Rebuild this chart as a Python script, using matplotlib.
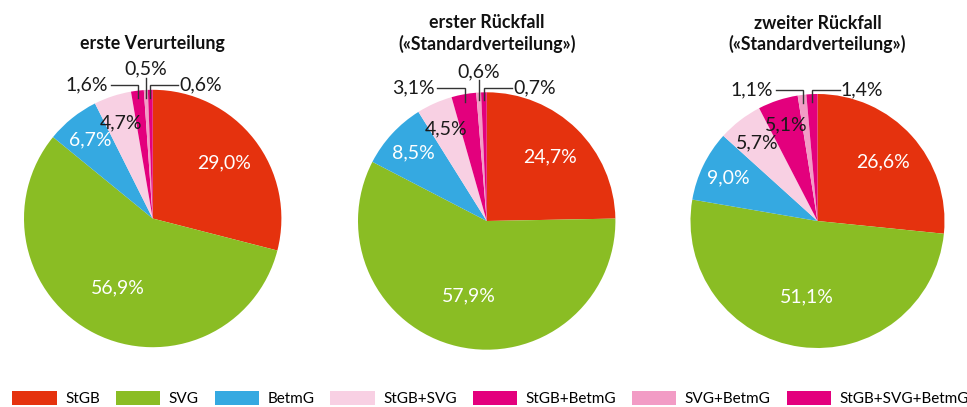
import matplotlib
matplotlib.use("Agg")
import matplotlib.pyplot as plt
from matplotlib.patches import Patch
import numpy as np

plt.rcParams['font.family'] = ['Lato', 'DejaVu Sans']

categories = ["StGB", "SVG", "BetmG", "StGB+SVG", "StGB+BetmG", "SVG+BetmG", "StGB+SVG+BetmG"]
colors = ["#E5320E", "#8ABD24", "#35A9E1", "#F8D0E3", "#E3007D", "#F29CC5", "#E3007D"]

titles = [["erste Verurteilung"],
          ["erster Rückfall", "(«Standardverteilung»)"],
          ["zweiter Rückfall", "(«Standardverteilung»)"]]
values_first = [29.0, 56.9, 6.7, 4.7, 1.6, 0.5, 0.6]
values_second = [24.7, 57.9, 8.5, 4.5, 3.1, 0.6, 0.7]
values_third = [26.6, 51.1, 9.0, 5.7, 5.1, 1.1, 1.4]
all_values = [values_first, values_second, values_third]

# callouts for small slices: index -> side
callouts = [{4: 'left', 5: 'top', 6: 'right'},
            {4: 'left', 5: 'top', 6: 'right'},
            {5: 'left', 6: 'right'}]
# inside-label radial distance per slice
inside_dist = [0.70, 0.60, 0.78, 0.78, 0.80, 0.8, 0.8]
white_text = [True, True, True, False, False, False, False]

W, H = 967, 407
fig = plt.figure(figsize=(W / 100, H / 100), dpi=100)

# pie geometry in pixels (center x, center y from top, radius)
geo = [(152.7, 218.5, 128.7), (486.7, 221.0, 128.7), (817.5, 221.0, 127.0)]
title_base = [[49.5], [28.0, 50.0], [29.0, 50.0]]
LBL = 14

def fmt(v):
    return f"{v:.1f}".replace(".", ",") + "%"

for k, vals in enumerate(all_values):
    cx, cy, r = geo[k]
    ax = fig.add_axes([(cx - r) / W, (H - cy - r) / H, 2 * r / W, 2 * r / H])
    wedges, _ = ax.pie(vals, colors=colors, startangle=90, counterclock=False,
                       radius=1, wedgeprops=dict(linewidth=0))
    ax.set_xlim(-1, 1)
    ax.set_ylim(-1, 1)
    ax.axis('off')
    for i, w in enumerate(wedges):
        mid = np.deg2rad((w.theta1 + w.theta2) / 2)
        if i in callouts[k]:
            side = callouts[k][i]
            ex, ey = 0.94 * np.cos(mid), 0.94 * np.sin(mid)
            ly = 1.035
            if side == 'left':
                x2 = ex - 0.215
                ax.plot([ex, ex, x2], [ey, ly, ly], color="#333333", lw=1.0, clip_on=False,
                        solid_joinstyle='miter')
                ax.text(x2 - 0.02, ly, fmt(vals[i]), ha='right', va='center',
                        fontsize=LBL, color="#1a1a1a")
            elif side == 'right':
                x2 = ex + 0.215
                ax.plot([ex, ex, x2], [ey, ly, ly], color="#333333", lw=1.0, clip_on=False,
                        solid_joinstyle='miter')
                ax.text(x2 + 0.01, ly, fmt(vals[i]), ha='left', va='center',
                        fontsize=LBL, color="#1a1a1a")
            else:
                ax.plot([ex, ex], [ey, 1.095], color="#333333", lw=1.0, clip_on=False)
                ax.text(ex, 1.16, fmt(vals[i]), ha='center', va='center',
                        fontsize=LBL, color="#1a1a1a")
        else:
            d = inside_dist[i]
            ax.text(d * np.cos(mid), d * np.sin(mid), fmt(vals[i]), ha='center', va='center',
                    fontsize=LBL, color="white" if white_text[i] else "#1a1a1a")
    for line, yb in zip(titles[k], title_base[k]):
        fig.text(cx / W, (H - yb) / H, line, ha='center', va='baseline',
                 fontsize=12.8, fontweight='bold', color="#111111")

handles = [Patch(facecolor=c, edgecolor='none') for c in colors]
fig.legend(handles, categories, loc='center left', bbox_to_anchor=(12.3 / W, (H - 398.3) / H),
           ncol=7, frameon=False, fontsize=11, handlelength=2.9, handleheight=1.1,
           handletextpad=0.55, columnspacing=1.05, borderpad=0, borderaxespad=0)

fig.savefig("out.png", dpi=100)
